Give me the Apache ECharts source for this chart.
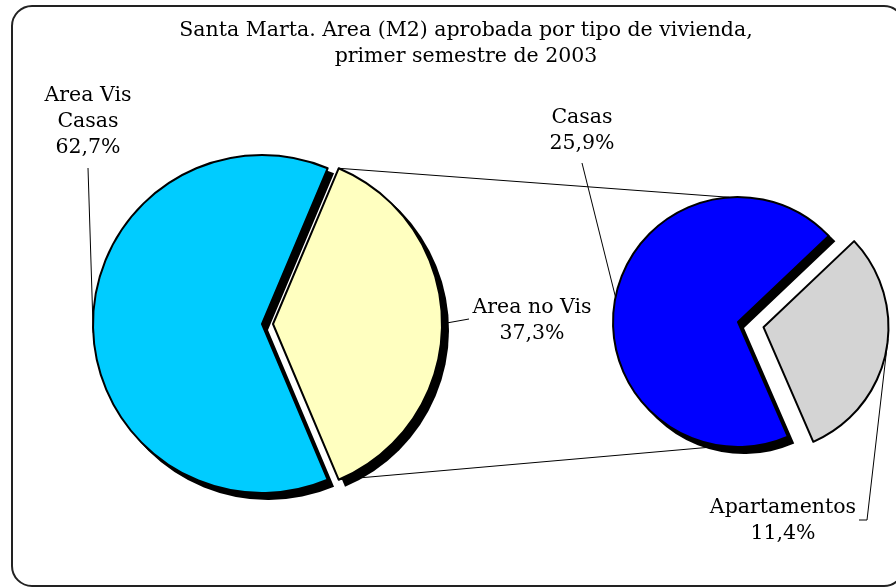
<!DOCTYPE html>
<html>
<head>
<meta charset="utf-8">
<script src="https://cdn.jsdelivr.net/npm/echarts@6/dist/echarts.min.js"></script>
<style>
html, body { margin: 0; padding: 0; background: #fff; }
#chart { width: 896px; height: 588px; }
</style>
</head>
<body>
<div id="chart"></div>
<script>
// datos del grafico (porcentajes del total)
const titleLines = ['Santa Marta. Area (M2) aprobada por tipo de vivienda,', 'primer semestre de 2003'];
const mainNames = ['Area no Vis', 'Area Vis\nCasas'];
const mainValues = [37.3, 62.7];
const mainColors = ['#ffffc0', '#00ccff'];
const subNames = ['Apartamentos', 'Casas'];
const subValues = [11.4, 25.9];
const subColors = ['#d4d4d4', '#0000ff'];

// geometria (px)
const L = { cx: 262, cy: 324, r: 169, off: 11 };
const R = { cx: 738, cy: 322, r: 125, off: 26 };
const subMid = -11.5; // angulo medio del trozo separado
const SH = 6; // desplazamiento de la sombra

const rad = (d) => d * Math.PI / 180;
const pt = (cx, cy, r, a) => [cx + r * Math.cos(rad(a)), cy - r * Math.sin(rad(a))];
const sum = (arr) => arr.reduce((a, b) => a + b, 0);

const mainHalf = 360 * mainValues[0] / sum(mainValues) / 2;
const subHalf = 360 * subValues[0] / sum(subValues) / 2;
const mainStart = mainHalf;
const subStart = subMid + subHalf;
const casasMid = subStart - 2 * subHalf - (360 - 2 * subHalf) / 2;

const pctText = (v) => v.toFixed(1).replace('.', ',') + '%';

// etiquetas y lineas guia
const yellowV = [L.cx + L.off, L.cy];
const grayV = pt(R.cx, R.cy, R.off, subMid);
const mainLabelPos = [[532, 321], [88, 122]];
const mainLinePts = [
    [pt(yellowV[0], yellowV[1], L.r - 1, 0), [469, 319]],
    [pt(L.cx, L.cy, L.r, 183), [88, 168]]
];
const subLabelPos = [[783, 521], [582, 131]];
const subLinePts = [
    [pt(grayV[0], grayV[1], R.r, subMid + 6), [867, 520], [859, 520]],
    [pt(R.cx, R.cy, R.r, casasMid), [582, 163]]
];

const font = 'DejaVu Serif';
const fontSize = 20.5;

function pieSeries(names, values, colors, geo, start, z) {
    return {
        type: 'pie',
        center: [geo.cx, geo.cy],
        radius: [0, geo.r],
        startAngle: start,
        clockwise: true,
        selectedMode: 'single',
        selectedOffset: geo.off,
        silent: true,
        z: z,
        label: { show: false },
        labelLine: { show: false },
        data: names.map((n, i) => ({
            name: n,
            value: values[i],
            selected: i === 0,
            itemStyle: { color: colors[i], borderColor: '#000', borderWidth: 2 }
        }))
    };
}

// sombra: la misma torta en negro, desplazada
function shadowSeries(names, values, geo, start, shadowIdx) {
    const s = pieSeries(names, values, names.map((n, i) => shadowIdx.includes(i) ? '#000' : 'rgba(0,0,0,0)'),
        { cx: geo.cx + SH, cy: geo.cy + SH, r: geo.r + 1, off: geo.off }, start, 1);
    s.data.forEach((d) => { d.itemStyle.borderWidth = 0; });
    return s;
}

function labelGraphics(names, values, pos, lines) {
    const g = [];
    names.forEach((n, i) => {
        g.push({
            type: 'text',
            x: pos[i][0],
            y: pos[i][1],
            z: 5,
            style: {
                text: n + '\n' + pctText(values[i]),
                fill: '#000',
                font: fontSize + 'px "' + font + '"',
                lineHeight: 26,
                align: 'center',
                verticalAlign: 'middle'
            }
        });
        g.push({
            type: 'polyline',
            z: 5,
            shape: { points: lines[i] },
            style: { stroke: '#000', lineWidth: 1, fill: 'none' }
        });
    });
    return g;
}

// lineas de union entre las dos tortas
const topA = pt(yellowV[0], yellowV[1], L.r, mainHalf);
const botA = pt(yellowV[0], yellowV[1], L.r, -mainHalf);
const topB = pt(R.cx, R.cy, R.r, 94);
const botB = pt(R.cx, R.cy, R.r, 263);

const chart = echarts.init(document.getElementById('chart'), null, { renderer: 'canvas' });
chart.setOption({
    animation: false,
    backgroundColor: '#fff',
    title: {
        text: titleLines.join('\n'),
        left: 461,
        top: 13,
        textAlign: 'center',
        textStyle: {
            fontFamily: font,
            fontSize: fontSize,
            fontWeight: 'normal',
            lineHeight: 26,
            color: '#000'
        }
    },
    graphic: [
        {
            type: 'rect',
            shape: { x: 12, y: 6, width: 892, height: 580, r: 20 },
            style: { fill: 'none', stroke: '#222', lineWidth: 2 },
            z: 0
        },
        {
            type: 'line',
            shape: { x1: topA[0], y1: topA[1], x2: topB[0], y2: topB[1] },
            style: { stroke: '#000', lineWidth: 1 },
            z: 1
        },
        {
            type: 'line',
            shape: { x1: botA[0], y1: botA[1], x2: botB[0], y2: botB[1] },
            style: { stroke: '#000', lineWidth: 1 },
            z: 1
        }
    ]
        .concat(labelGraphics(mainNames, mainValues, mainLabelPos, mainLinePts))
        .concat(labelGraphics(subNames, subValues, subLabelPos, subLinePts)),
    series: [
        shadowSeries(mainNames, mainValues, L, mainStart, [0, 1]),
        shadowSeries(subNames, subValues, R, subStart, [1]),
        pieSeries(mainNames, mainValues, mainColors, L, mainStart, 2),
        pieSeries(subNames, subValues, subColors, R, subStart, 2)
    ]
});
</script>
</body>
</html>
